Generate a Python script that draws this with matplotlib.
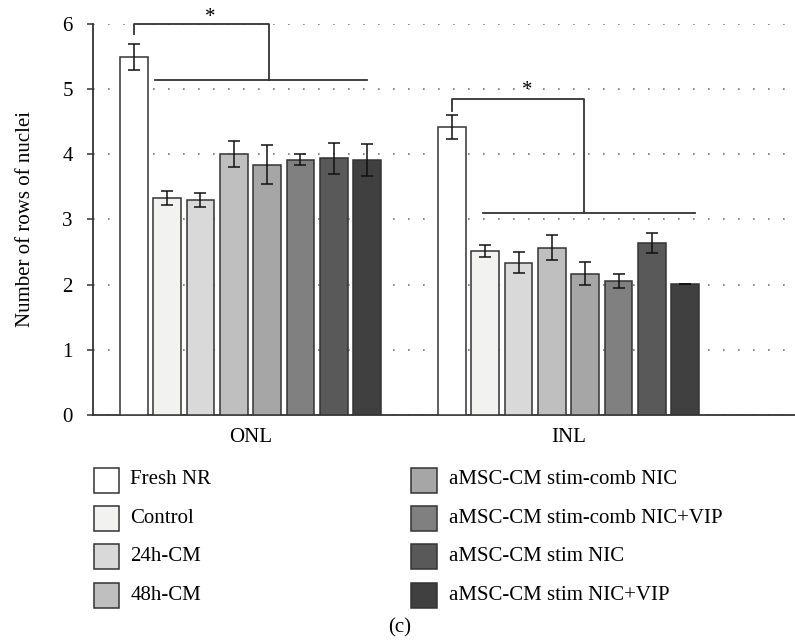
import matplotlib
matplotlib.use("Agg")
import matplotlib.pyplot as plt
from matplotlib.patches import Rectangle
import numpy as np

plt.rcParams['font.family'] = ['Liberation Serif', 'DejaVu Serif']

groups = ["ONL", "INL"]
series = ["Fresh NR", "Control", "24h-CM", "48h-CM",
          "aMSC-CM stim-comb NIC", "aMSC-CM stim-comb NIC+VIP",
          "aMSC-CM stim NIC", "aMSC-CM stim NIC+VIP"]
colors = ["#ffffff", "#f2f2f0", "#d9d9d9", "#bfbfbf",
          "#a6a6a6", "#808080", "#595959", "#404040"]
onl_vals = [5.50, 3.33, 3.30, 4.01, 3.84, 3.92, 3.94, 3.91]
onl_err = [0.20, 0.10, 0.11, 0.20, 0.30, 0.09, 0.24, 0.25]
inl_vals = [4.42, 2.52, 2.34, 2.57, 2.17, 2.06, 2.64, 2.01]
inl_err = [0.19, 0.09, 0.16, 0.19, 0.18, 0.11, 0.16, 0.005]
yticks = [0, 1, 2, 3, 4, 5, 6]

fig = plt.figure(figsize=(7.95, 6.43), dpi=100)
ax = fig.add_axes([93/795, 1-415/643, 1-93/795, (415-24)/643])

pitch = 0.1048
width = 0.087
edge = "#333333"
vals = [onl_vals, inl_vals]
errs = [onl_err, inl_err]
for g in range(2):
    for i in range(8):
        x = g + (i - 3.5) * pitch
        ax.bar(x, vals[g][i], width=width, color=colors[i], edgecolor=edge,
               linewidth=1.1, zorder=3)
        ax.errorbar(x, vals[g][i], yerr=errs[g][i], color="#111111",
                    capsize=4, elinewidth=1.1, capthick=1.1, zorder=4)

ax.set_xlim(-0.495, 1.712)
ax.set_ylim(0, 6)
ax.set_yticks(yticks)
ax.set_xticks([0, 1])
ax.set_xticklabels(groups)
ax.tick_params(axis='x', length=0, pad=9, labelsize=15)
ax.tick_params(axis='y', length=4.5, width=1.1, direction='out', pad=10,
               labelsize=15, color=edge)
for s in ['top', 'right']:
    ax.spines[s].set_visible(False)
for s in ['left', 'bottom']:
    ax.spines[s].set_color(edge)
    ax.spines[s].set_linewidth(1.3)
ax.yaxis.grid(True, linestyle=(0, (1, 8)), color="#777777", linewidth=1.2)
ax.set_axisbelow(True)
ax.set_ylabel("Number of rows of nuclei", fontsize=15, labelpad=20)

# significance brackets
lk = dict(color=edge, lw=1.3, clip_on=False, zorder=5)
f0 = -3.5 * pitch
ax.plot([f0, f0, 0.058, 0.058], [5.85, 6.0, 6.0, 5.14], **lk)
ax.plot([-0.300, 0.366], [5.14, 5.14], **lk)
ax.text(-0.127, 5.95, "*", ha='center', va='bottom', fontsize=15, clip_on=False)
f1 = 1 - 3.5 * pitch
ax.plot([f1, f1, 1.048, 1.048], [4.66, 4.85, 4.85, 3.10], **lk)
ax.plot([0.731, 1.398], [3.10, 3.10], **lk)
ax.text(0.869, 4.83, "*", ha='center', va='bottom', fontsize=15, clip_on=False)

# legend drawn manually
rows_y = [480, 518.3, 556.7, 595]
col_box_x = [93.5, 411]
col_text_x = [130.5, 449]
bw, bh = 25.5, 25
for i, name in enumerate(series):
    c = i // 4
    r = i % 4
    yc = rows_y[r]
    fig.patches.append(Rectangle((col_box_x[c]/795, 1-(yc+bh/2)/643), bw/795, bh/643,
                                 transform=fig.transFigure, facecolor=colors[i],
                                 edgecolor=edge, linewidth=1.1))
    fig.text(col_text_x[c]/795, 1-yc/643, name, ha='left', va='center', fontsize=15)

fig.text(400/795, 1-628/643, "(c)", ha='center', va='center', fontsize=15)

fig.savefig("out.png", dpi=100)
